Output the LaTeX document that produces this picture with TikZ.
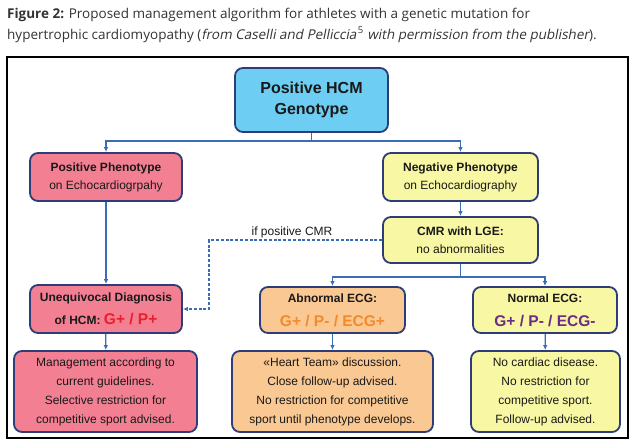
\documentclass[tikz,border=0pt]{standalone}
\usepackage{fontspec}
\setmainfont{Liberation Sans}
\newfontfamily\capfont{Open Sans}
\newfontfamily\capslant[FakeSlant=0.2]{Open Sans}
\usetikzlibrary{arrows.meta,calc,positioning}
\definecolor{boxline}{HTML}{2E3D78}
\definecolor{conncol}{HTML}{3A6DB5}
\definecolor{genofill}{HTML}{6DCDF2}
\definecolor{posfill}{HTML}{F37F92}
\definecolor{negfill}{HTML}{F8F7A4}
\definecolor{abnfill}{HTML}{FAC892}
\definecolor{gpred}{HTML}{E8212B}
\definecolor{gporange}{HTML}{F38A2E}
\definecolor{gppurple}{HTML}{6B2C84}
\definecolor{captext}{HTML}{333333}

\begin{document}
\begin{tikzpicture}[x=1pt, y=-1pt,
  box/.style={draw=boxline, line width=1.8pt, rounded corners=8pt, align=center,
    inner sep=0pt, text=black!90},
  headbox/.style={box, font=\fontsize{12}{18}\selectfont},
  notebox/.style={box, font=\fontsize{12}{19}\selectfont, minimum height=81pt},
  conn/.style={draw=conncol, line width=1.2pt, -{Latex[length=5pt,width=4.5pt]}},
  dashconn/.style={conn, dash pattern=on 3pt off 1.8pt},
  caption/.style={anchor=north west, align=left, inner sep=0pt, text=captext, font=\capfont\fontsize{13.5}{21}\selectfont}]
\useasboundingbox (0,0) rectangle (637,447);
% caption
\node[caption] (cap) at (7,7.5) {{\bfseries Figure 2:} Proposed management algorithm for athletes with a genetic mutation for\\hypertrophic cardiomyopathy ({\capslant from Caselli and Pelliccia}\kern1.5pt\textsuperscript{5} {\capslant with permission from the publisher}).};
\draw[line width=1.1pt] (7,57) rectangle (628,438);
% genotype
\node[box, fill=genofill, minimum width=153pt, minimum height=64pt, font=\bfseries\fontsize{16}{21}\selectfont] (geno) at (311.5,100) {Positive HCM\\Genotype};
% phenotype
\node[headbox, fill=posfill, minimum width=152pt, minimum height=48pt] (pos) at (106,177) {\textbf{Positive Phenotype}\\on Echocardiogrpahy};
\node[headbox, fill=negfill, minimum width=155pt, minimum height=48pt] (neg) at (460.5,177) {\textbf{Negative Phenotype}\\on Echocardiography};
\node[headbox, fill=negfill, minimum width=155pt, minimum height=46pt] (cmr) at (460.5,240) {\textbf{CMR with LGE:}\\no abnormalities};
% diagnosis and ECG
\node[headbox, fill=posfill, minimum width=152pt, minimum height=48pt, font=\bfseries\fontsize{12}{23}\selectfont] (diag) at (106,309) {Unequivocal Diagnosis\\of HCM: {\color{gpred}\fontsize{15.5}{18}\selectfont G+ / P+}};
\node[headbox, fill=abnfill, minimum width=145pt, minimum height=46pt, font=\bfseries\fontsize{12}{24}\selectfont] (abn) at (332.5,310) {Abnormal ECG:\\{\color{gporange}\fontsize{15.5}{18}\selectfont G+ / P- / ECG+}};
\node[headbox, fill=negfill, minimum width=144pt, minimum height=46pt, font=\bfseries\fontsize{12}{24}\selectfont] (norm) at (545,310) {Normal ECG:\\{\color{gppurple}\fontsize{15.5}{18}\selectfont G+ / P- / ECG-}};
% management
\node[notebox, fill=posfill, minimum width=183pt] (mgmt) at (105.5,391.5) {Management according to\\current guidelines.\\Selective restriction for\\competitive sport advised.};
\node[notebox, fill=abnfill, minimum width=201pt] (team) at (332.5,391.5) {«Heart Team» discussion.\\Close follow-up advised.\\No restriction for competitive\\sport until phenotype develops.};
\node[notebox, fill=negfill, minimum width=149pt] (nocard) at (545.5,391.5) {No cardiac disease.\\No restriction for\\competitive sport.\\Follow-up advised.};
% connectors
\draw[conn] (geno.south) -- ++(0,8) -| (pos.north);
\draw[conn] (geno.south) -- ++(0,8) -| (neg.north);
\draw[conn] (neg) -- (cmr);
\draw[conn] (pos) -- (diag);
\draw[conn] (cmr.south) -- ++(0,13) -| (abn.north);
\draw[conn] (cmr.south) -- ++(0,13) -| (norm.north);
\draw[dashconn] (cmr.west) -| (209,309) -- (diag.east);
\node[font=\fontsize{12}{14}\selectfont, text=black!90, inner sep=0pt] (lbl) at (292,232) {if positive CMR};
\draw[conn] (diag) -- (mgmt);
\draw[conn] (abn) -- (team);
\draw[conn] (norm) -- (nocard);
\end{tikzpicture}
\end{document}
